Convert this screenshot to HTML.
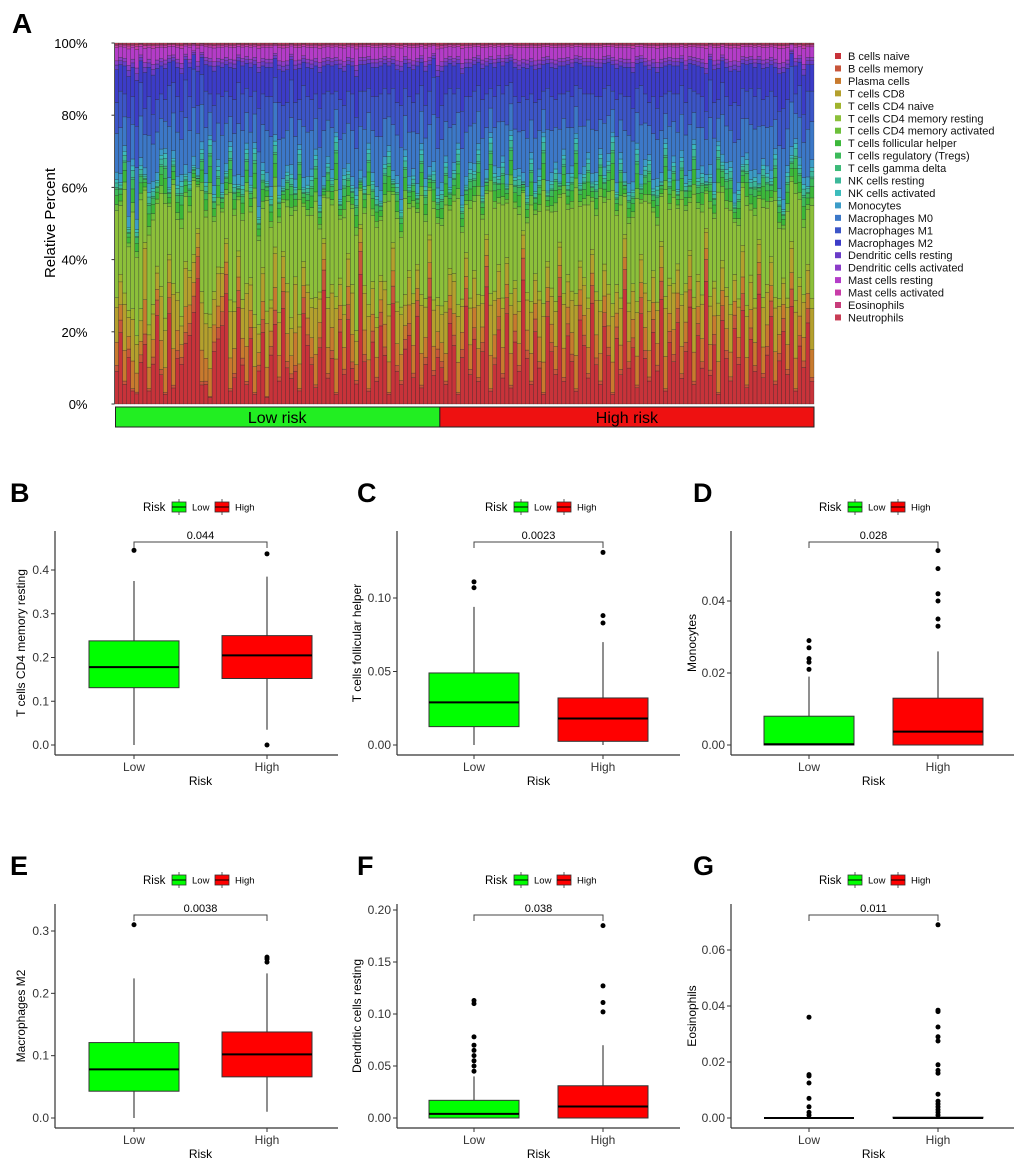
<!DOCTYPE html>
<html><head><meta charset="utf-8"><style>
html,body{margin:0;padding:0;background:#fff}
svg{display:block;font-family:"Liberation Sans",Arial,sans-serif}
</style></head><body>
<svg id="fig" width="1020" height="1160" viewBox="0 0 1020 1160" xmlns="http://www.w3.org/2000/svg">
<rect width="1020" height="1160" fill="#fff"/>
<g id="panelA"></g>
<g id="boxes"></g>
</svg>
<script>
// ===== Panel A data =====
const cellTypes = ["B cells naive","B cells memory","Plasma cells","T cells CD8","T cells CD4 naive","T cells CD4 memory resting","T cells CD4 memory activated","T cells follicular helper","T cells regulatory (Tregs)","T cells gamma delta","NK cells resting","NK cells activated","Monocytes","Macrophages M0","Macrophages M1","Macrophages M2","Dendritic cells resting","Dendritic cells activated","Mast cells resting","Mast cells activated","Eosinophils","Neutrophils"];
const cellColors = ["#c8333a","#c8553a","#c87a2e","#b4a02d","#a0b42d","#8cc03a","#6cbf3a","#3cb83a","#3cba5a","#3cba78","#3cb89a","#3cbcbc","#3c9cc8","#3c78c8","#3c55c8","#3c3cc8","#6a3cc8","#8c3cc8","#b43cc8","#c83ca8","#c83c7a","#c83c55"];
const groupOf = [0,0,1,1,2,2,3,3,3,3,3,3,4,4,4,5,5,5,5,5,5,5];
const groupShare = [0.85,0.15,0.4,0.6,0.1,0.9,0.2,0.3,0.2,0.05,0.15,0.1,0.1,0.5,0.4,0.55,0.08,0.07,0.22,0.04,0.02,0.02];
const nLow = 80;
const redVals = [10,22,6,14,4,3,13,18,4,12,27,9,3,28,5,14,12,19,21,29,38,6,6,2,16,20,24,34,4,8,30,12,6,20,3,10,22,2,15,25,
7,29,11,8,10,4,28,18,12,5,17,35,8,14,3,22,9,26,11,6,40,13,4,19,7,24,15,3,31,10,6,17,21,8,27,5,12,33,9,14,
11,6,25,18,3,14,30,9,20,7,16,36,4,12,23,8,28,5,19,10,38,14,6,22,11,3,27,16,9,33,7,21,13,4,26,18,8,31,12,6,
24,15,3,20,9,35,11,17,5,28,14,7,22,10,32,4,19,13,25,8,16,30,6,21,11,37,9,18,3,26,14,7,23,12,29,5,20,10,34,8,
15,27,6,13,22,9,31,4,18,11,25,7];
const oliveVals = [15,10,20,8,18,12,9,22,14,11,7,19,16,10,24,13,8,17,12,9,6,21,15,18,11,14,10,8,20,16,9,13,23,11,17,8,12,19,10,15,
14,9,18,12,21,16,8,11,13,20,10,7,17,15,22,9,14,12,18,10,6,16,19,11,13,8,15,20,10,14,17,9,12,18,8,21,13,10,16,11,
12,18,9,14,20,11,8,16,13,19,10,7,22,15,12,17,9,21,11,14,6,13,18,10,16,20,9,12,15,8,19,11,14,22,10,13,17,8,15,18,
11,14,20,9,16,8,13,12,19,10,15,17,11,14,9,21,12,16,10,18,13,9,19,11,15,7,17,12,20,10,14,16,9,13,11,18,12,15,8,17,
14,10,19,12,9,16,11,20,13,15,10,18];
const ygVals = [25,20,30,18,28,22,32,15,26,24,18,27,33,14,29,21,25,19,17,22,12,30,28,35,20,18,16,13,31,25,15,23,27,19,34,24,17,32,21,18,
26,14,22,30,19,33,16,20,24,28,18,12,29,23,31,17,25,15,22,27,10,21,32,19,26,16,23,30,14,24,20,28,18,25,15,29,22,13,27,21,
23,28,17,21,31,19,14,26,20,29,22,12,30,24,18,27,16,32,21,25,11,20,28,17,23,33,15,22,26,13,29,19,24,31,16,21,27,14,22,30,
18,25,33,20,27,11,23,19,30,15,24,28,17,22,13,31,20,25,16,28,21,14,30,19,24,10,26,18,32,20,23,27,15,21,17,29,19,24,12,26,
22,16,28,20,14,25,18,31,23,19,16,27];
const greenVals = [8,6,10,5,12,7,9,4,11,8,6,10,13,5,7,9,12,6,8,4,3,11,9,14,7,10,5,6,12,8,4,9,11,7,13,6,10,5,8,12,
7,4,9,11,6,13,5,8,10,12,6,3,9,7,14,5,11,8,6,10,3,7,12,9,8,5,10,13,4,9,7,11,6,8,5,12,9,4,10,7,
9,11,6,8,13,7,5,10,8,12,6,4,14,9,7,11,5,13,8,10,3,7,12,6,9,14,5,8,11,4,10,7,9,13,6,8,12,5,9,11,
7,10,14,6,12,4,8,7,13,5,9,11,6,10,4,12,8,9,5,11,7,6,13,8,10,3,9,7,12,8,10,11,5,9,6,12,8,10,4,11,
9,6,12,8,5,10,7,13,9,11,6,10];
const blueVals = [20,24,15,28,18,26,22,17,25,19,21,16,14,27,20,23,18,25,22,26,18,20,24,12,23,19,25,21,13,22,27,24,16,23,15,28,20,22,26,17,
24,21,18,25,22,13,27,23,20,16,25,24,19,22,12,26,18,21,24,20,23,25,16,22,26,28,20,15,24,21,27,18,23,19,26,17,21,22,25,20,
22,18,26,20,16,24,23,19,21,17,25,22,13,20,24,18,26,14,21,19,22,25,17,23,20,12,27,22,18,23,16,24,20,14,25,21,17,23,22,15,
23,20,12,24,17,22,25,21,16,26,19,15,24,20,22,13,23,18,25,19,21,24,14,22,20,18,25,23,12,21,19,16,26,22,20,18,24,21,25,17,
20,23,15,22,26,19,24,13,21,18,25,20];
const pctTicks = ["0%","20%","40%","60%","80%","100%"];

// ===== Box panel data =====
const panelLetters = ["B","C","D","E","F","G"];
const panelTitles = ["T cells CD4 memory resting","T cells follicular helper","Monocytes","Macrophages M2","Dendritic cells resting","Eosinophils"];
const pValues = ["0.044","0.0023","0.028","0.0038","0.038","0.011"];
const yTicks = [[0,0.1,0.2,0.3,0.4],[0,0.05,0.10],[0,0.02,0.04],[0,0.1,0.2,0.3],[0,0.05,0.10,0.15,0.20],[0,0.02,0.04,0.06]];
const yTickDigits = [1,2,2,1,2,2];
// [whiskerLow, q1, median, q3, whiskerHigh]
const lowStats = [[0,0.131,0.178,0.238,0.375],[0,0.0125,0.029,0.049,0.094],[0,0,0.0002,0.008,0.019],[0,0.043,0.078,0.121,0.224],[0,0,0.004,0.017,0.040],[0,0,0,0,0]];
const highStats = [[0.035,0.152,0.205,0.25,0.385],[0,0.0025,0.018,0.032,0.070],[0,0,0.0037,0.013,0.026],[0.01,0.066,0.102,0.138,0.232],[0,0,0.011,0.031,0.070],[0,0,0,0.0003,0.0008]];
const lowOutliers = [[0.445],[0.107,0.111],[0.021,0.023,0.024,0.027,0.029],[0.31],[0.045,0.05,0.055,0.06,0.065,0.07,0.078,0.11,0.113],[0.001,0.002,0.004,0.007,0.0125,0.015,0.0155,0.036]];
const highOutliers = [[0.437,0],[0.083,0.088,0.131],[0.033,0.035,0.040,0.042,0.049,0.054],[0.25,0.255,0.258],[0.102,0.111,0.127,0.185],[0.001,0.002,0.003,0.004,0.005,0.006,0.0085,0.016,0.017,0.019,0.0275,0.029,0.0325,0.038,0.0385,0.069]];

const NS="http://www.w3.org/2000/svg";
function mk(parent, tag, attrs, text){
  const e=document.createElementNS(NS,tag);
  for(const k in attrs) e.setAttribute(k,attrs[k]);
  if(text!==undefined) e.textContent=text;
  parent.appendChild(e); return e;
}

// ===== Draw Panel A =====
(function(){
  const g=document.getElementById('panelA');
  const x0=114.5, x1=814, yTop=43, yBot=404;
  const n=redVals.length;
  const bw=(x1-x0)/n;
  const ys=v=>yBot-(v/100)*(yBot-yTop);
  const letter=mk(g,'text',{x:12,y:33,'font-size':28,'font-weight':'bold',fill:'#000'},'A');
  
  
  for(let i=0;i<n;i++){
    const grp=[redVals[i],oliveVals[i],ygVals[i],greenVals[i],blueVals[i]];
    let s=grp.reduce((a,b)=>a+b,0);
    grp.push(Math.max(4,(100-s)*0.7));
    s=grp.reduce((a,b)=>a+b,0);
    let cum=0;
    const bar=mk(g,'g',{});
    
    
    for(let c=0;c<cellTypes.length;c++){
      const v=grp[groupOf[c]]/s*100*groupShare[c];
      const yA=ys(cum+v), yB=ys(cum);
      const r=mk(bar,'rect',{x:x0+i*bw,y:yA,width:bw,height:Math.max(0,yB-yA),fill:cellColors[c],stroke:'#222','stroke-width':0.35,'stroke-opacity':0.8});
      
      
      cum+=v;
    }
  }
  mk(g,'line',{x1:x0,y1:yTop,x2:x0,y2:yBot,stroke:'#555','stroke-width':1});
  pctTicks.forEach((t,i)=>{
    const y=ys(i*20);
    mk(g,'line',{x1:x0-3,y1:y,x2:x0,y2:y,stroke:'#333','stroke-width':1});
    const tl=mk(g,'text',{x:x0-27,y:y+5,'font-size':13,'text-anchor':'end',fill:'#000'},t);
    
    
  });
  const yt=mk(g,'text',{x:55,y:223,'font-size':15,'text-anchor':'middle',fill:'#000',transform:'rotate(-90 55 223)'},'Relative Percent');
  
  
  const xm=x0+nLow*bw;
  const lr=mk(g,'rect',{x:x0+1,y:407,width:xm-x0-1,height:20,fill:'#22ee22',stroke:'#222','stroke-width':1});
  
  
  const hr=mk(g,'rect',{x:xm,y:407,width:x1-xm,height:20,fill:'#ee1111',stroke:'#222','stroke-width':1});
  
  
  mk(g,'text',{x:(x0+xm)/2,y:423,'font-size':16,'text-anchor':'middle',fill:'#000'},'Low risk');
  mk(g,'text',{x:(xm+x1)/2,y:423,'font-size':16,'text-anchor':'middle',fill:'#000'},'High risk');
  cellTypes.forEach((t,i)=>{
    const y=56+i*12.45;
    const le=mk(g,'g',{});
    
    
    mk(le,'rect',{x:835,y:y-3,width:6,height:6,fill:cellColors[i]});
    mk(le,'text',{x:848,y:y+4,'font-size':11,fill:'#111'},t);
  });
})();

// ===== Draw box panels =====
(function(){
  const root=document.getElementById('boxes');
  const cols=[{ax:55,lowX:134,highX:267,letterX:10,ytx:25},{ax:397,lowX:474,highX:603,letterX:357,ytx:361},{ax:731,lowX:809,highX:938,letterX:693,ytx:696}];
  const rows=[{y0:745,dy:0},{y0:1118,dy:373}];
  const topTickPx=[570,598,601,931,910,950];
  for(let p=0;p<6;p++){
    const c=cols[p%3], r=rows[Math.floor(p/3)];
    const g=mk(root,'g',{});
    
    
    const ticks=yTicks[p];
    const tmax=ticks[ticks.length-1];
    const ys=v=>r.y0-(v/tmax)*(r.y0-topTickPx[p]);
    const bottom=755+r.dy, top=531+r.dy, right=c.ax+283;
    const L=mk(g,'text',{x:c.letterX,y:502+r.dy,'font-size':27,'font-weight':'bold',fill:'#000'},panelLetters[p]);
    
    
    const lg=mk(g,'g',{});
    
    
    const lx=c.ax+88, ly=507+r.dy;
    mk(lg,'text',{x:lx,y:ly+4,'font-size':11.5,fill:'#000'},'Risk');
    [['#00ff00','Low',lx+29],['#ff0000','High',lx+72]].forEach(([col,lab,kx])=>{
      mk(lg,'line',{x1:kx+7,y1:ly-8,x2:kx+7,y2:ly+8,stroke:'#333','stroke-width':0.8});
      mk(lg,'rect',{x:kx,y:ly-5,width:14,height:10,fill:col,stroke:'#333','stroke-width':0.8});
      mk(lg,'line',{x1:kx,y1:ly,x2:kx+14,y2:ly,stroke:'#000','stroke-width':1});
      mk(lg,'text',{x:kx+20,y:ly+3.5,'font-size':9.5,fill:'#000'},lab);
    });
    mk(g,'line',{x1:c.ax,y1:top,x2:c.ax,y2:bottom,stroke:'#333','stroke-width':1.2});
    mk(g,'line',{x1:c.ax,y1:bottom,x2:right,y2:bottom,stroke:'#333','stroke-width':1.2});
    ticks.forEach(t=>{
      const y=ys(t);
      mk(g,'line',{x1:c.ax-4,y1:y,x2:c.ax,y2:y,stroke:'#333','stroke-width':1});
      const tl=mk(g,'text',{x:c.ax-6,y:y+4,'font-size':12,'text-anchor':'end',fill:'#333'},t.toFixed(yTickDigits[p]));
      
      
    });
    [[c.lowX,'Low'],[c.highX,'High']].forEach(([x,lab])=>{
      mk(g,'line',{x1:x,y1:bottom,x2:x,y2:bottom+4,stroke:'#333','stroke-width':1});
      const tl=mk(g,'text',{x:x,y:bottom+16,'font-size':12,'text-anchor':'middle',fill:'#333'},lab);
      
      
    });
    const xt=mk(g,'text',{x:(c.lowX+c.highX)/2,y:bottom+30,'font-size':12,'text-anchor':'middle',fill:'#000'},'Risk');
    
    
    const ym=(top+bottom)/2;
    const yt=mk(g,'text',{x:c.ytx,y:ym,'font-size':12,'text-anchor':'middle',fill:'#000',transform:`rotate(-90 ${c.ytx} ${ym})`},panelTitles[p]);
    
    
    [[c.lowX,lowStats[p],lowOutliers[p],'#00ff00','low'],[c.highX,highStats[p],highOutliers[p],'#ff0000','high']].forEach(([x,st,outs,col,nm])=>{
      const bg=mk(g,'g',{});
      
      
      const hw=45;
      mk(bg,'line',{x1:x,y1:ys(st[0]),x2:x,y2:ys(st[4]),stroke:'#333','stroke-width':1.1});
      const yq3=ys(st[3]), yq1=ys(st[1]);
      mk(bg,'rect',{x:x-hw,y:yq3,width:2*hw,height:Math.max(0,yq1-yq3),fill:col,stroke:'#333','stroke-width':1});
      mk(bg,'line',{x1:x-hw,y1:ys(st[2]),x2:x+hw,y2:ys(st[2]),stroke:'#000','stroke-width':2});
      outs.forEach(v=>{
        const o=mk(bg,'circle',{cx:x,cy:ys(v),r:2.5,fill:'#000'});
        
        
      });
    });
    const by=542+r.dy;
    const br=mk(g,'path',{d:`M${c.lowX},${by+6}V${by}H${c.highX}V${by+6}`,fill:'none',stroke:'#444','stroke-width':1});
    
    
    const pv=mk(g,'text',{x:(c.lowX+c.highX)/2,y:by-3,'font-size':11,'text-anchor':'middle',fill:'#000'},pValues[p]);
    
    
  }
})();
</script>
</body></html>
